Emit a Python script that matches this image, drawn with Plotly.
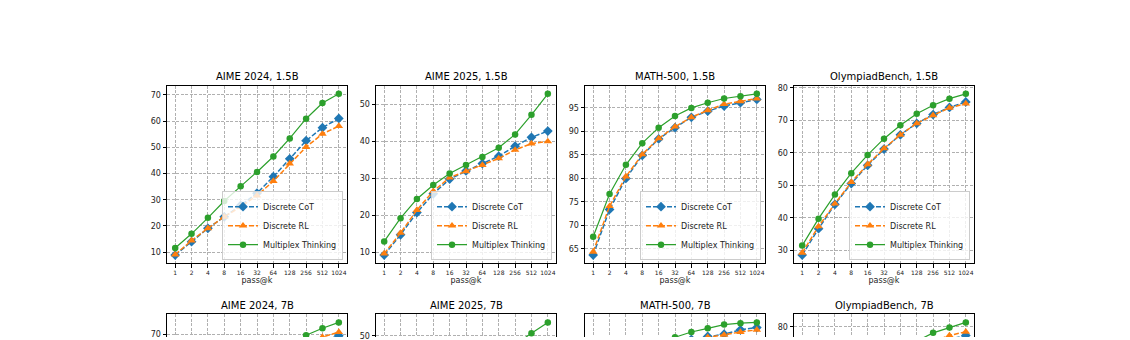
import plotly.graph_objects as go

# ---------------- data ----------------
k_labels = ["1", "2", "4", "8", "16", "32", "64", "128", "256", "512", "1024"]

titles_row1 = ["AIME 2024, 1.5B", "AIME 2025, 1.5B", "MATH-500, 1.5B", "OlympiadBench, 1.5B"]
titles_row2 = ["AIME 2024, 7B", "AIME 2025, 7B", "MATH-500, 7B", "OlympiadBench, 7B"]

# 1.5B
aime24_15_cot = [8.9, 14.0, 19.1, 23.5, 27.8, 32.5, 38.8, 45.6, 52.5, 57.5, 61.0]
aime24_15_rl = [9.1, 14.4, 19.1, 23.5, 27.3, 31.6, 37.1, 43.8, 50.1, 55.1, 58.1]
aime24_15_mt = [11.6, 17.0, 23.1, 29.5, 35.1, 40.6, 46.5, 53.4, 60.9, 66.9, 70.4]

aime25_15_cot = [9.2, 14.7, 20.7, 25.8, 29.8, 32.0, 34.0, 36.0, 38.7, 41.1, 42.8]
aime25_15_rl = [9.6, 15.2, 21.4, 26.5, 30.2, 31.9, 33.6, 35.4, 37.7, 39.4, 40.0]
aime25_15_mt = [12.9, 19.2, 24.4, 28.2, 31.3, 33.6, 35.8, 38.3, 41.9, 47.2, 52.9]

math_15_cot = [63.7, 73.4, 80.0, 84.9, 88.4, 90.8, 93.0, 94.3, 95.4, 96.1, 96.8]
math_15_rl = [64.4, 74.1, 80.4, 85.1, 88.5, 91.0, 93.0, 94.5, 95.8, 96.4, 97.0]
math_15_mt = [67.6, 76.7, 82.9, 87.5, 90.8, 93.3, 95.0, 96.1, 97.0, 97.5, 98.0]

oly_15_cot = [28.6, 36.7, 44.2, 50.6, 56.2, 61.2, 65.6, 69.1, 71.8, 74.0, 75.7]
oly_15_rl = [29.3, 37.4, 44.4, 51.0, 56.5, 61.4, 65.6, 69.1, 71.6, 73.9, 75.2]
oly_15_mt = [31.5, 39.8, 47.2, 53.8, 59.4, 64.4, 68.5, 72.1, 74.7, 76.7, 78.2]

# 7B
aime24_7_cot = [14.0, 20.5, 27.5, 34.5, 41.0, 47.5, 53.5, 59.0, 63.5, 67.5, 69.5]
aime24_7_rl = [14.5, 21.0, 28.0, 35.0, 41.5, 48.0, 54.0, 59.5, 64.5, 69.0, 70.9]
aime24_7_mt = [17.0, 24.0, 31.5, 38.5, 45.0, 51.5, 57.5, 63.5, 69.7, 72.3, 74.5]

aime25_7_cot = [10.0, 14.5, 19.5, 24.0, 28.0, 31.5, 34.5, 37.0, 39.5, 41.5, 43.0]
aime25_7_rl = [10.5, 15.0, 20.0, 24.5, 28.5, 32.0, 35.0, 37.5, 40.0, 42.0, 43.5]
aime25_7_mt = [12.0, 17.5, 23.0, 28.0, 32.5, 36.5, 40.5, 44.0, 47.5, 50.7, 53.6]

math_7_cot = [77.0, 83.5, 88.0, 91.5, 94.0, 95.5, 96.5, 96.9, 97.2, 97.8, 98.1]
math_7_rl = [78.0, 84.5, 88.5, 91.8, 94.0, 95.5, 96.4, 96.8, 97.1, 97.5, 97.8]
math_7_mt = [82.0, 87.5, 91.0, 93.5, 95.3, 96.8, 97.5, 98.0, 98.5, 98.7, 98.8]

oly_7_cot = [36.5, 44.5, 51.5, 57.5, 62.5, 66.5, 70.0, 73.0, 75.0, 76.5, 77.6]
oly_7_rl = [37.0, 45.0, 52.0, 58.0, 63.0, 67.0, 70.5, 73.5, 75.8, 77.6, 78.6]
oly_7_mt = [39.0, 47.5, 54.5, 60.5, 65.5, 69.5, 73.0, 76.0, 78.3, 79.8, 81.2]

series_names = ["Discrete CoT", "Discrete RL", "Multiplex Thinking"]
row1_data = [
    (aime24_15_cot, aime24_15_rl, aime24_15_mt),
    (aime25_15_cot, aime25_15_rl, aime25_15_mt),
    (math_15_cot, math_15_rl, math_15_mt),
    (oly_15_cot, oly_15_rl, oly_15_mt),
]
row2_data = [
    (aime24_7_cot, aime24_7_rl, aime24_7_mt),
    (aime25_7_cot, aime25_7_rl, aime25_7_mt),
    (math_7_cot, math_7_rl, math_7_mt),
    (oly_7_cot, oly_7_rl, oly_7_mt),
]
dticks_row1 = [10, 10, 5, 10]
dticks_row2 = [10, 10, 5, 10]

# ---------------- style ----------------
W, H = 1130, 340
FONT = "DejaVu Sans"
colors = ["#1f77b4", "#ff7f0e", "#2ca02c"]
symbols = ["diamond", "triangle-up", "circle"]
msizes = [7.5, 7.5, 6.5]
dashes = ["5px,2px", "5px,2px", "solid"]
lwidths = [1.5, 1.5, 1.2]

panel_lefts = [167, 376, 585, 794]
panel_w = 180
row1_top, row1_bot = 85, 265
row2_top = 317
full_h = 180

fig = go.Figure()


def yfrac(py):
    return 1 - py / H


def padded(vals_lists):
    lo = min(min(v) for v in vals_lists)
    hi = max(max(v) for v in vals_lists)
    pad = 0.05 * (hi - lo)
    return lo - pad, hi + pad


axis_common = dict(
    showline=True, linecolor="black", linewidth=1,
    showgrid=True, gridcolor="#b0b0b0", gridwidth=0.8, griddash="3px,1.5px",
    zeroline=False, tickcolor="black", tickwidth=0.8, ticklen=3.5,
)

annotations = []
for row in range(2):
    data = row1_data if row == 0 else row2_data
    titles = titles_row1 if row == 0 else titles_row2
    for c in range(4):
        idx = row * 4 + c + 1
        xa = "x" if idx == 1 else f"x{idx}"
        ya = "y" if idx == 1 else f"y{idx}"
        left = panel_lefts[c]
        xdom = [left / W, (left + panel_w) / W]
        lo, hi = padded(list(data[c]))
        if row == 0:
            ydom = [yfrac(row1_bot), yfrac(row1_top)]
            yrange = [lo, hi]
        else:
            vis_h = H - row2_top
            ydom = [0, vis_h / H]
            yrange = [hi - (vis_h / full_h) * (hi - lo), hi]

        for s in range(3):
            fig.add_trace(go.Scatter(
                x=k_labels, y=data[c][s], name=series_names[s],
                mode="lines+markers", xaxis=xa, yaxis=ya,
                line=dict(color=colors[s], width=lwidths[s], dash=dashes[s]),
                marker=dict(symbol=symbols[s], size=msizes[s], color=colors[s], line=dict(width=0)),
                showlegend=(row == 0),
                legend=("legend" if c == 0 else f"legend{c + 1}"),
                cliponaxis=True,
            ))

        xkey = "xaxis" if idx == 1 else f"xaxis{idx}"
        ykey = "yaxis" if idx == 1 else f"yaxis{idx}"
        xlayout = dict(axis_common, domain=xdom, anchor=ya, type="category",
                       range=[-0.5, 10.5], categoryorder="array", categoryarray=k_labels)
        ylayout = dict(axis_common, domain=ydom, anchor=xa, range=yrange,
                       dtick=(dticks_row1 if row == 0 else dticks_row2)[c], tick0=0,
                       ticks="outside", mirror=True, ticklabeloverflow="allow",
                       tickfont=dict(family=FONT, size=8, color="#222"))
        if row == 0:
            xlayout.update(ticks="outside", mirror=True, tickangle=0,
                           tickfont=dict(family=FONT, size=6, color="#222"),
                           title=dict(text="pass@k", font=dict(family=FONT, size=8, color="#222"), standoff=2))
        else:
            xlayout.update(side="top", ticks="", showticklabels=False, mirror=False)
        fig.layout[xkey] = xlayout
        fig.layout[ykey] = ylayout

        ty = 76 if row == 0 else 308
        annotations.append(dict(
            text=titles[c], x=(left + panel_w / 2) / W, y=yfrac(ty),
            xref="paper", yref="paper", xanchor="center", yanchor="middle",
            showarrow=False, font=dict(family=FONT, size=10, color="black"),
        ))

# legends (one per top-row panel, lower right)
for c in range(4):
    key = "legend" if c == 0 else f"legend{c + 1}"
    fig.layout[key] = dict(
        x=(panel_lefts[c] + panel_w - 4) / W, y=yfrac(row1_bot - 3),
        xanchor="right", yanchor="bottom",
        bgcolor="rgba(255,255,255,0.8)", bordercolor="#cccccc", borderwidth=1,
        font=dict(family=FONT, size=8, color="#222"),
        itemwidth=30, tracegroupgap=0,
    )

fig.update_layout(
    width=W, height=H,
    margin=dict(l=0, r=0, t=0, b=0),
    paper_bgcolor="white", plot_bgcolor="white",
    annotations=annotations,
    font=dict(family=FONT),
)

fig.write_html("out.html")
